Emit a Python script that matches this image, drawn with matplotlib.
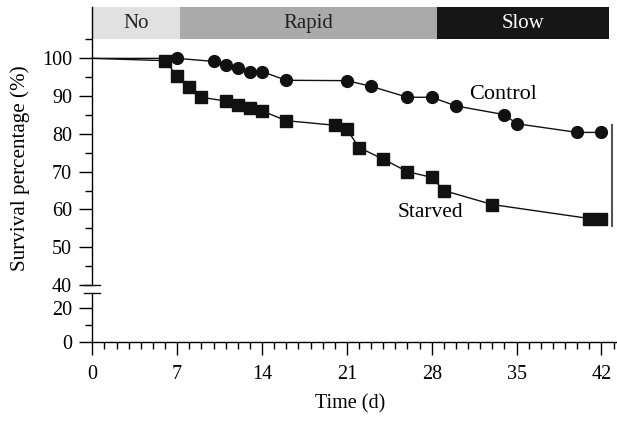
import numpy as np
import matplotlib.pyplot as plt
from matplotlib.ticker import MultipleLocator

plt.rcParams['font.family'] = ['Liberation Serif', 'DejaVu Serif']
plt.rcParams['font.size'] = 14.5

# data
control_day = [0, 7, 10, 11, 12, 13, 14, 16, 21, 23, 26, 28, 30, 34, 35, 40, 42]
control_pct = [100, 100, 99.2, 98.2, 97.4, 96.5, 96.5, 94.2, 94.1, 92.6, 89.7, 89.7,
               87.4, 85.1, 82.7, 80.4, 80.4]
starved_day = [0, 6, 7, 8, 9, 11, 12, 13, 14, 16, 20, 21, 22, 24, 26, 28, 29, 33, 41, 42]
starved_pct = [100, 99.4, 95.3, 92.5, 89.7, 88.7, 87.6, 86.8, 86.1, 83.5, 82.3, 81.2,
               76.4, 73.3, 70.0, 68.5, 65.0, 61.3, 57.6, 57.6]

phase_names = ["No", "Rapid", "Slow"]
phase_edges = [0, 7.2, 28.4, 42.6]
phase_colors = ["#e1e1e1", "#aaaaaa", "#161616"]
phase_text = ["#222222", "#222222", "#ffffff"]

W, H = 617, 421
fig = plt.figure(figsize=(W / 100, H / 100), dpi=100)

x0 = 92.3 / W
x1 = 616.0 / W
ax = fig.add_axes([x0, 1 - 285 / H, x1 - x0, (285 - 7) / H])
axb = fig.add_axes([x0, 1 - 341.7 / H, x1 - x0, (341.7 - 293.3) / H], sharex=ax)

ink = "#111111"
ax.plot(control_day, control_pct, color=ink, lw=1.0, marker='o', ms=8.5,
        markevery=list(range(1, len(control_day))), clip_on=False, zorder=3)
ax.plot(starved_day, starved_pct, color=ink, lw=1.0, marker='s', ms=8,
        markevery=list(range(1, len(starved_day))), clip_on=False, zorder=3)

for a in (ax, axb):
    a.spines['right'].set_visible(False)
    a.spines['top'].set_visible(False)
    a.spines['left'].set_linewidth(1.0)
    a.spines['bottom'].set_linewidth(1.0)
    a.tick_params(which='major', direction='out', length=9.7, width=1.0, pad=5)
    a.tick_params(which='minor', direction='out', length=5, width=1.0)

ax.set_xlim(0, 43.2)
ax.set_ylim(40, 113.6)
ax.spines['bottom'].set_visible(False)
ax.tick_params(axis='x', which='both', bottom=False, labelbottom=False)
ax.yaxis.set_major_locator(plt.FixedLocator([40, 50, 60, 70, 80, 90, 100]))
ax.yaxis.set_minor_locator(plt.FixedLocator([45, 55, 65, 75, 85, 95, 105]))

axb.set_ylim(0, 29)
axb.yaxis.set_major_locator(plt.FixedLocator([0, 20]))
axb.yaxis.set_minor_locator(plt.FixedLocator([10]))
axb.xaxis.set_major_locator(MultipleLocator(7))
axb.xaxis.set_minor_locator(MultipleLocator(1))
axb.tick_params(axis='x', which='major', pad=7)

# phase band on top
for i, name in enumerate(phase_names):
    ax.fill_between([phase_edges[i], phase_edges[i + 1]], 105, 113.6,
                    color=phase_colors[i], lw=0, clip_on=False, zorder=1)
    ax.text((phase_edges[i] + phase_edges[i + 1]) / 2, 109.3, name,
            ha='center', va='center', color=phase_text[i], fontsize=15)

# axis break marks
d = 8 / ((x1 - x0) * W)
ax.plot([-d, d], [0, 0], transform=ax.transAxes, color=ink, lw=1.0, clip_on=False)
axb.plot([-d, d], [1, 1], transform=axb.transAxes, color=ink, lw=1.0, clip_on=False)

ax.text(33.9, 90.5, "Control", ha='center', va='center', fontsize=16)
ax.text(27.9, 59.1, "Starved", ha='center', va='center', fontsize=15.5)
ax.plot([42.9, 42.9], [55.7, 82.3], color="#555555", lw=1.5, clip_on=False)

fig.text(20 / W, 1 - 168 / H, "Survival percentage (%)", rotation=90,
         ha='center', va='center', fontsize=15.2)
fig.text(350 / W, 1 - 404 / H, "Time (d)", ha='center', va='center', fontsize=14.5)

fig.savefig("out.png", dpi=100)
